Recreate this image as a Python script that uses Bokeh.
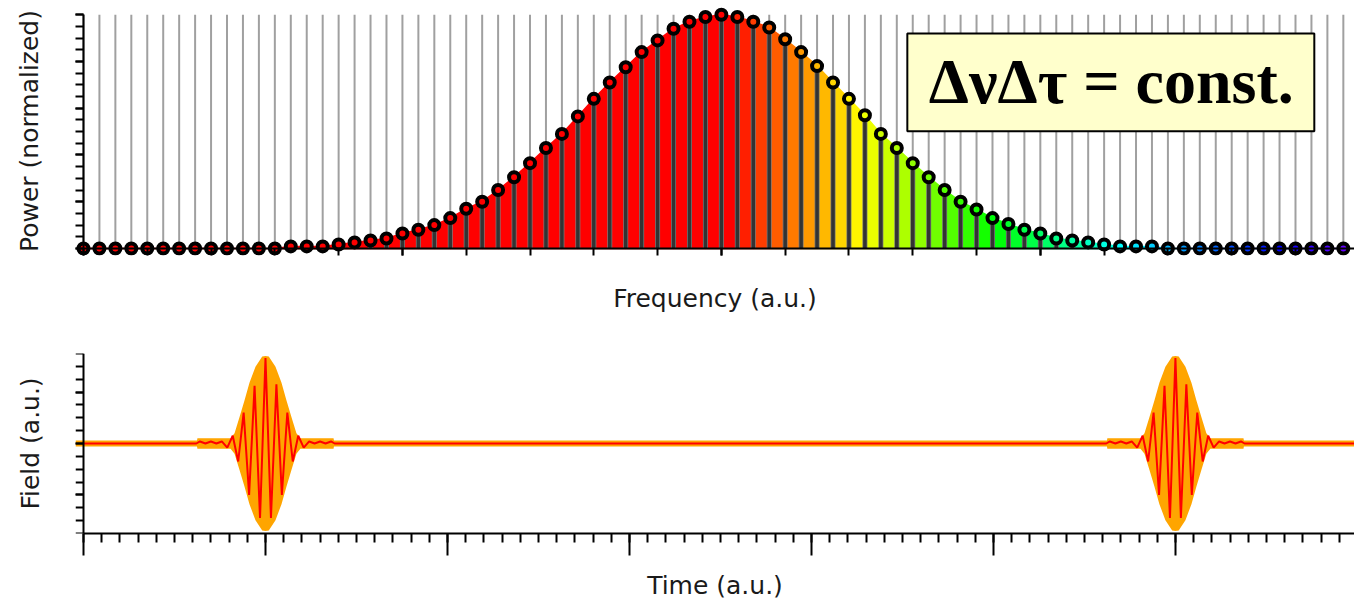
import colorsys
from bokeh.plotting import figure
from bokeh.layouts import column
from bokeh.models import (Range1d, FixedTicker, LinearAxis, BoxAnnotation, Label, Span)
from bokeh.embed import file_html
from bokeh.resources import INLINE

# ---------------- data ----------------
mode_index = list(range(80))
power = [0, 0, 0, 0, 0, 0, 0, 0, 0, 0, 0, 0, 0,
         0.009, 0.009, 0.009, 0.017, 0.026, 0.034, 0.043, 0.064, 0.08, 0.10, 0.13, 0.17,
         0.20, 0.25, 0.305, 0.365, 0.43, 0.49, 0.565, 0.64, 0.71, 0.775, 0.84, 0.89,
         0.94, 0.97, 0.99,
         1.0,
         0.99, 0.97, 0.945, 0.895, 0.84, 0.78, 0.71, 0.64, 0.57, 0.49, 0.43, 0.365,
         0.305, 0.25, 0.20, 0.167, 0.13, 0.105, 0.08, 0.064, 0.043, 0.034, 0.026,
         0.017, 0.009, 0.009, 0.009,
         0, 0, 0, 0, 0, 0, 0, 0, 0, 0, 0, 0]
assert len(power) == len(mode_index)

freq_major_ticks = [0, 20, 40, 60]
power_major_ticks = [0, 0.2, 0.4, 0.6, 0.8, 1.0]

pulse_centers = [1.0, 6.0]
env_t = [-0.379, -0.374, -0.192, -0.170, -0.143, -0.115, -0.088, -0.055, -0.018, 0.0,
         0.018, 0.055, 0.088, 0.115, 0.143, 0.170, 0.192, 0.374, 0.379]
env_v = [0.0, 0.1, 0.1, 0.2, 0.51, 0.84, 1.18, 1.49, 1.69, 1.70,
         1.69, 1.49, 1.18, 0.84, 0.51, 0.2, 0.1, 0.1, 0.0]
field_t = [-0.38, -0.36, -0.33, -0.30, -0.27, -0.24, -0.21, -0.18, -0.15, -0.12, -0.09, -0.06, -0.03,
           0.0, 0.03, 0.06, 0.09, 0.12, 0.15, 0.18, 0.21, 0.24, 0.27, 0.30, 0.33, 0.36, 0.38]
field_v = [0.0, 0.04, 0.0, 0.04, 0.0, 0.04, -0.08, 0.15, -0.35, 0.6, -1.0, 1.12, -1.45,
           1.66, -1.45, 1.15, -1.0, 0.6, -0.35, 0.15, -0.08, 0.04, 0.0, 0.04, 0.0, 0.04, 0.0]
time_major_ticks = [0, 1, 2, 3, 4, 5, 6]
field_major_ticks = [-1, 0, 1]

FONT = "DejaVu Sans"
LABEL_SIZE = "25px"
LABEL_COLOR = "#1a1a1a"


def hue_for(n):
    d = n - 40
    if d <= 0:
        return 0.0
    if d <= 25:
        return 7.2 * d
    return 180.0 + 6.0 * (d - 25)


def hex_color(h):
    r, g, b = colorsys.hsv_to_rgb(h / 360.0, 1.0, 1.0)
    return "#%02x%02x%02x" % (int(round(r * 255)), int(round(g * 255)), int(round(b * 255)))


mode_colors = [hex_color(hue_for(n)) for n in mode_index]


def style_axis(ax):
    ax.axis_line_color = "black"
    ax.axis_line_width = 2
    ax.major_tick_line_color = "black"
    ax.major_tick_line_width = 2
    ax.minor_tick_line_color = "black"
    ax.minor_tick_line_width = 2
    ax.major_tick_in = 0
    ax.minor_tick_in = 0
    ax.major_label_text_color = None
    ax.major_label_text_font_size = "0px"
    ax.major_label_standoff = 0
    ax.axis_label_standoff = 0
    ax.axis_label_text_font = FONT
    ax.axis_label_text_font_size = LABEL_SIZE
    ax.axis_label_text_font_style = "normal"
    ax.axis_label_text_color = LABEL_COLOR


def title_axis(label, standoff, bounds="auto"):
    ax = LinearAxis(ticker=FixedTicker(ticks=[], minor_ticks=[]), axis_label=label, bounds=bounds)
    style_axis(ax)
    ax.axis_line_color = None
    ax.major_tick_out = 0
    ax.minor_tick_out = 0
    ax.axis_label_standoff = standoff
    return ax


# ---------------- top: spectrum ----------------
p1 = figure(frame_width=1279, frame_height=249,
            min_border_left=75, min_border_right=0, min_border_top=6, min_border_bottom=65,
            x_range=Range1d(-0.5, 79.7), y_range=Range1d(-0.03, 1.035),
            x_axis_type=None, y_axis_type=None,
            output_backend="svg", toolbar_location=None)
p1.outline_line_color = None

xa1 = LinearAxis(ticker=FixedTicker(ticks=freq_major_ticks, minor_ticks=list(range(0, 80, 4))),
                 fixed_location=0, bounds=(0, 79.7))
style_axis(xa1)
xa1.major_tick_out = 20
xa1.minor_tick_out = 10
p1.add_layout(xa1, "below")
p1.add_layout(title_axis("Frequency (a.u.)", 28, (0, 79.7)), "below")

ya1 = LinearAxis(ticker=FixedTicker(ticks=power_major_ticks,
                                    minor_ticks=[i * 0.05 for i in range(21)]),
                 fixed_location=0, bounds=(0, 1.0))
style_axis(ya1)
ya1.major_tick_out = 18
ya1.minor_tick_out = 9
p1.add_layout(ya1, "left")
p1.add_layout(title_axis("Power (normalized)", 32, (0, 1.0)), "left")

top_val = max(power)
# comb lines
p1.segment(x0=mode_index, y0=[0] * len(mode_index), x1=mode_index, y1=[top_val] * len(mode_index),
           line_color="#a0a0a0", line_width=2)
# coloured fill between neighbouring modes
xs, ys, cs = [], [], []
for n in mode_index[:-1]:
    xs.append([mode_index[n], mode_index[n + 1], mode_index[n + 1], mode_index[n]])
    ys.append([0, 0, power[n + 1], power[n]])
    cs.append(mode_colors[n])
p1.patches(xs=xs, ys=ys, fill_color=cs, line_color=cs, line_width=1.5)
# stems
p1.segment(x0=mode_index, y0=[0] * len(mode_index), x1=mode_index, y1=power,
           line_color="#7a7a7a", line_width=5)
p1.segment(x0=mode_index, y0=[0] * len(mode_index), x1=mode_index, y1=power,
           line_color="#333333", line_width=3.5)
# markers
p1.scatter(x=mode_index, y=power, marker="circle", size=10, line_width=4,
           line_color="black", fill_color=mode_colors)

box = BoxAnnotation(left=51.66, right=77.18, bottom=0.501, top=0.92,
                    fill_color="#ffffcc", fill_alpha=1.0, line_color="black", line_width=2,
                    line_alpha=1.0)
p1.add_layout(box)
p1.add_layout(Label(x=64.45, y=0.716, text="ΔνΔτ = const.", text_font="Liberation Serif",
                    text_font_style="bold", text_font_size="64px", text_align="center",
                    text_baseline="middle", text_color="black"))

# ---------------- bottom: field ----------------
t_end = 6.984
p2 = figure(frame_width=1279, frame_height=180,
            min_border_left=75, min_border_right=0, min_border_top=33, min_border_bottom=70,
            x_range=Range1d(-8 / 182, t_end), y_range=Range1d(-1.75, 1.75),
            x_axis_type=None, y_axis_type=None,
            output_backend="svg", toolbar_location=None)
p2.outline_line_color = None

xa2 = LinearAxis(ticker=FixedTicker(ticks=time_major_ticks, minor_ticks=[i / 10 for i in range(70)]),
                 axis_label="Time (a.u.)", bounds=(0, t_end))
style_axis(xa2)
xa2.major_tick_out = 22
xa2.minor_tick_out = 9
xa2.axis_label_standoff = 15
p2.add_layout(xa2, "below")

mid = LinearAxis(ticker=FixedTicker(ticks=[c + 0.5 for c in time_major_ticks], minor_ticks=[]),
                 fixed_location=-1.75)
style_axis(mid)
mid.axis_line_color = None
mid.major_tick_in = 13
mid.major_tick_out = 0
p2.add_layout(mid, "above")

ya2 = LinearAxis(ticker=FixedTicker(ticks=field_major_ticks,
                                    minor_ticks=[-1.75 + 0.25 * i for i in range(15)]),
                 fixed_location=0)
style_axis(ya2)
ya2.major_tick_out = 20
ya2.minor_tick_out = 8
p2.add_layout(ya2, "left")
p2.add_layout(title_axis("Field (a.u.)", 31), "left")

p2.add_layout(Span(location=0, dimension="width", line_color="#ffa500", line_width=6, level="underlay"))
for c in pulse_centers:
    p2.varea(x=[c + t for t in env_t], y1=[-v for v in env_v], y2=env_v, fill_color="#ffa500")

lx, ly = [0.0], [0.0]
for c in pulse_centers:
    lx += [c + t for t in field_t]
    ly += field_v
lx.append(t_end)
ly.append(0.0)
p2.line(x=lx, y=ly, line_color="#ff0000", line_width=2)

layout = column(p1, p2)
open("out.html", "w").write(file_html(layout, INLINE))
